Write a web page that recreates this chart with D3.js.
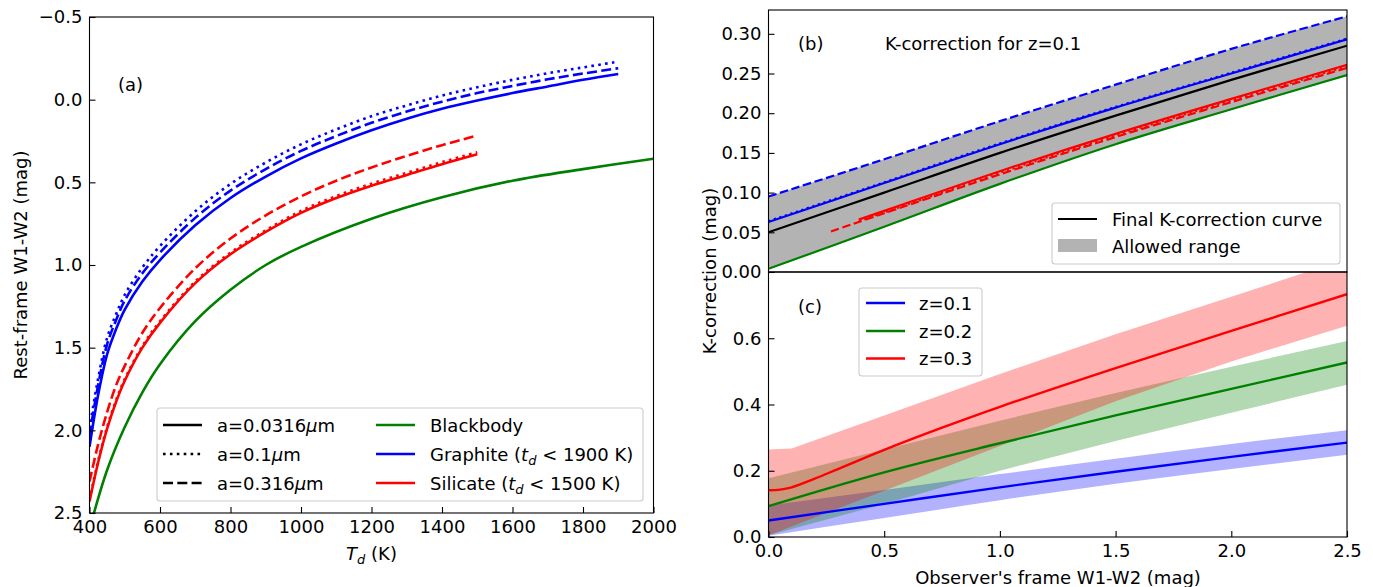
<!DOCTYPE html>
<html><head><meta charset="utf-8">
<script src="https://cdn.jsdelivr.net/npm/d3@7"></script>
<style>
html,body{margin:0;padding:0;background:#fff;}
svg{display:block;font-family:"DejaVu Sans",sans-serif;}
</style></head><body>
<svg id="chart" width="1373" height="587"></svg>
<script>
// ---------------- Panel (a) data ----------------
const tdGraphite = [400,425,450,475,500,550,600,700,800,900,1000,1100,1200,1300,1400,1500,1600,1700,1800,1900];
const graphiteA0316 = [2.10,1.78,1.54,1.39,1.27,1.10,0.97,0.76,0.595,0.465,0.355,0.265,0.185,0.115,0.055,0.005,-0.04,-0.08,-0.12,-0.155];
const graphiteA01   = [1.99,1.68,1.44,1.30,1.18,1.015,0.885,0.675,0.51,0.38,0.27,0.18,0.10,0.035,-0.025,-0.075,-0.12,-0.16,-0.195,-0.23];
const graphiteA316  = [2.03,1.72,1.48,1.335,1.215,1.05,0.925,0.715,0.55,0.42,0.31,0.22,0.14,0.072,0.012,-0.04,-0.083,-0.123,-0.158,-0.19];
const tdSilicate = [400,425,450,475,500,550,600,700,800,900,1000,1100,1200,1300,1400,1500];
const silicateA0316 = [2.43,2.19,1.99,1.83,1.70,1.50,1.35,1.11,0.935,0.80,0.685,0.595,0.52,0.455,0.39,0.33];
const silicateA01   = [2.42,2.18,1.98,1.82,1.69,1.49,1.34,1.10,0.925,0.79,0.673,0.583,0.508,0.443,0.378,0.318];
const silicateA316  = [2.31,2.08,1.89,1.73,1.61,1.41,1.26,1.02,0.84,0.70,0.585,0.49,0.41,0.34,0.275,0.217];
const tdBlackbody = [400,410,450,500,550,600,700,800,900,1000,1200,1400,1600,1800,2000];
const blackbodyA  = [2.60,2.52,2.24,1.98,1.77,1.60,1.34,1.15,1.00,0.89,0.72,0.59,0.49,0.42,0.357];
const ticksTd = [400,600,800,1000,1200,1400,1600,1800,2000];
const ticksColA = [-0.5,0.0,0.5,1.0,1.5,2.0,2.5];

// ---------------- Panel (b) data ----------------
const obsColor = [0,0.5,1.0,1.5,2.0,2.5];
const kBlackbody   = [0.004,0.057,0.111,0.161,0.205,0.248];
const kGraphite316 = [0.095,0.142,0.190,0.236,0.281,0.322];
const kGraphite0316= [0.063,0.112,0.161,0.207,0.250,0.293];
const kGraphite01  = [0.064,0.113,0.162,0.208,0.251,0.294];
const kFinal       = [0.050,0.100,0.150,0.197,0.242,0.285];
const obsSilicateSmall = [0.39,0.5,1.0,1.5,2.0,2.5];
const kSilicate0316 = [0.066,0.077,0.127,0.174,0.218,0.261];
const kSilicate01   = [0.064,0.075,0.125,0.172,0.216,0.259];
const obsSilicateLarge = [0.27,0.5,1.0,1.5,2.0,2.5];
const kSilicate316  = [0.051,0.074,0.123,0.170,0.214,0.257];
const ticksKb = [0.00,0.05,0.10,0.15,0.20,0.25,0.30];

// ---------------- Panel (c) data ----------------
const kZ2 = [0.093,0.195,0.283,0.367,0.447,0.527];
const kZ2low = [0.005,0.10,0.20,0.29,0.375,0.46];
const kZ2high= [0.177,0.264,0.351,0.435,0.514,0.592];
const obsZ3 = [0,0.05,0.1,0.2,0.3,0.5,0.75,1.0,1.5,2.0,2.5];
const kZ3   = [0.141,0.143,0.150,0.176,0.205,0.263,0.330,0.393,0.51,0.622,0.733];
const obsZ3band = [0,0.1,0.5,1.0,1.5,2.0,2.5];
const kZ3low  = [0.005,0.032,0.14,0.275,0.41,0.53,0.638];
const kZ3high = [0.264,0.267,0.367,0.492,0.612,0.725,0.84];
const ticksObs = [0.0,0.5,1.0,1.5,2.0,2.5];
const ticksKc = [0.0,0.2,0.4,0.6];

// ---------------- drawing ----------------
const svg = d3.select("#chart");
const FS = 18;
const BLUE="#0000ff", GREEN="#008000", RED="#ff0000";
const zip = (xs, ys) => xs.map((x,i)=>[x, ys[i]]);
const minus = s => s.replace("-", "\u2212");
const SMOOTH = d3.curveCatmullRom.alpha(0.5);

const xA = d3.scaleLinear().domain([400,2000]).range([89.5,653.5]);
const yA = d3.scaleLinear().domain([-0.5,2.5]).range([17,513]);
const xB = d3.scaleLinear().domain([0,2.5]).range([768.5,1347]);
const yB = d3.scaleLinear().domain([0,0.33]).range([272,10]);
const yC = d3.scaleLinear().domain([0,0.8]).range([537,272]);

const defs = svg.append("defs");
function clip(id, x0, y0, x1, y1){
  defs.append("clipPath").attr("id", id).append("rect")
    .attr("x", x0).attr("y", y0).attr("width", x1-x0).attr("height", y1-y0);
}
clip("cA", 89.5, 17, 653.5, 513);
clip("cB", 768.5, 10, 1347, 272);
clip("cC", 768.5, 272, 1347, 537);

function drawLine(g, x, y, pts, color, width, dash, curve){
  g.append("path").datum(pts)
    .attr("d", d3.line().x(d=>x(d[0])).y(d=>y(d[1])).curve(curve || SMOOTH))
    .attr("fill","none").attr("stroke",color).attr("stroke-width",width)
    .attr("stroke-dasharray", dash || null);
}
function drawBand(g, x, y, xs, lo, hi, color, opacity, curve){
  const pts = xs.map((v,i)=>({x:v, lo:lo[i], hi:hi[i]}));
  g.append("path").datum(pts)
    .attr("d", d3.area().x(d=>x(d.x)).y0(d=>y(d.lo)).y1(d=>y(d.hi)).curve(curve || d3.curveMonotoneX))
    .attr("fill", color).attr("fill-opacity", opacity).attr("stroke","none");
}

// ---- Panel (a) ----
const gA = svg.append("g").attr("clip-path","url(#cA)");
const LWA = 2.6, DASHA = "10,4.3", DOTA = "2.6,4.3";
drawLine(gA, xA, yA, zip(tdBlackbody, blackbodyA), GREEN, LWA);
drawLine(gA, xA, yA, zip(tdGraphite, graphiteA0316), BLUE, LWA);
drawLine(gA, xA, yA, zip(tdGraphite, graphiteA01), BLUE, LWA, DOTA);
drawLine(gA, xA, yA, zip(tdGraphite, graphiteA316), BLUE, LWA, DASHA);
drawLine(gA, xA, yA, zip(tdSilicate, silicateA0316), RED, LWA);
drawLine(gA, xA, yA, zip(tdSilicate, silicateA01), RED, LWA, DOTA);
drawLine(gA, xA, yA, zip(tdSilicate, silicateA316), RED, LWA, DASHA);

// ---- Panel (b) ----
const gB = svg.append("g").attr("clip-path","url(#cB)");
const LWB = 2.2, DASHB = "8.5,3.6", DOTB = "2.2,3.6";
drawBand(gB, xB, yB, obsColor, kBlackbody, kGraphite316, "#b3b3b3", 1);
drawLine(gB, xB, yB, zip(obsColor, kBlackbody), GREEN, LWB);
drawLine(gB, xB, yB, zip(obsColor, kGraphite0316), BLUE, LWB);
drawLine(gB, xB, yB, zip(obsColor, kGraphite01), BLUE, LWB, DOTB);
drawLine(gB, xB, yB, zip(obsColor, kGraphite316), BLUE, LWB, DASHB);
drawLine(gB, xB, yB, zip(obsSilicateSmall, kSilicate0316), RED, LWB);
drawLine(gB, xB, yB, zip(obsSilicateSmall, kSilicate01), RED, LWB, DOTB);
drawLine(gB, xB, yB, zip(obsSilicateLarge, kSilicate316), RED, LWB, DASHB);
drawLine(gB, xB, yB, zip(obsColor, kFinal), "#000", LWB);

// ---- Panel (c) ----
const gC = svg.append("g").attr("clip-path","url(#cC)");
drawBand(gC, xB, yC, obsColor, kBlackbody, kGraphite316, BLUE, 0.3);
drawBand(gC, xB, yC, obsColor, kZ2low, kZ2high, GREEN, 0.3, d3.curveLinear);
drawBand(gC, xB, yC, obsZ3band, kZ3low, kZ3high, RED, 0.3, d3.curveLinear);
drawLine(gC, xB, yC, zip(obsColor, kFinal), BLUE, 2.4);
drawLine(gC, xB, yC, zip(obsColor, kZ2), GREEN, 2.4);
drawLine(gC, xB, yC, zip(obsZ3, kZ3), RED, 2.4);

// ---- Axes ----
function styleAxis(g){
  g.select(".domain").remove();
  g.selectAll("line").attr("stroke","#000").attr("stroke-width",1.1);
  g.selectAll("text").attr("font-size",FS).attr("font-family","DejaVu Sans").attr("fill","#000");
}
svg.append("g").attr("transform","translate(89.5,0)")
  .call(d3.axisLeft(yA).tickValues(ticksColA).tickSize(-6).tickPadding(7).tickFormat(d=>minus(d3.format(".1f")(d))))
  .call(styleAxis);
svg.append("g").attr("transform","translate(0,513)")
  .call(d3.axisBottom(xA).tickValues(ticksTd).tickSize(-6).tickPadding(7).tickFormat(d3.format("d")))
  .call(styleAxis);
svg.append("g").attr("transform","translate(768.5,0)")
  .call(d3.axisLeft(yB).tickValues(ticksKb).tickSize(-6).tickPadding(7).tickFormat(d3.format(".2f")))
  .call(styleAxis);
svg.append("g").attr("transform","translate(768.5,0)")
  .call(d3.axisLeft(yC).tickValues(ticksKc).tickSize(-6).tickPadding(7).tickFormat(d3.format(".1f")))
  .call(styleAxis);
svg.append("g").attr("transform","translate(0,537)")
  .call(d3.axisBottom(xB).tickValues(ticksObs).tickSize(-6).tickPadding(7).tickFormat(d3.format(".1f")))
  .call(styleAxis);

// frames
function frame(x0,y0,x1,y1){
  svg.append("rect").attr("x",x0).attr("y",y0).attr("width",x1-x0).attr("height",y1-y0)
    .attr("fill","none").attr("stroke","#000").attr("stroke-width",1.1);
}
frame(89.5,17,653.5,513);
frame(768.5,10,1347,272);
frame(768.5,272,1347,537);

// ---- axis labels ----
function txt(x,y,s,opt){
  const t = svg.append("text").attr("x",x).attr("y",y).attr("font-size",FS).attr("fill","#000");
  if (opt && opt.anchor) t.attr("text-anchor",opt.anchor);
  if (s !== null) t.text(s);
  return t;
}
svg.append("text").attr("transform","translate(27,265) rotate(-90)").attr("text-anchor","middle")
  .attr("font-size",FS).text("Rest-frame W1-W2 (mag)");
svg.append("text").attr("transform","translate(716,271) rotate(-90)").attr("text-anchor","middle")
  .attr("font-size",FS).text("K-correction (mag)");
const tl = txt(371.5,560,null,{anchor:"middle"});
tl.append("tspan").attr("font-style","italic").text("T");
tl.append("tspan").attr("font-style","italic").attr("font-size",13).attr("dy",4).text("d");
tl.append("tspan").attr("dy",-4).text(" (K)");
txt(1058,584,"Observer's frame W1-W2 (mag)",{anchor:"middle"});

txt(118,91,"(a)");
txt(798,50,"(b)");
txt(885,50,"K-correction for z=0.1");
txt(798,313,"(c)");

// ---- legends ----
function legendBox(x0,y0,x1,y1){
  svg.append("rect").attr("x",x0).attr("y",y0).attr("width",x1-x0).attr("height",y1-y0)
    .attr("rx",3).attr("fill","#fff").attr("fill-opacity",0.8)
    .attr("stroke","#cccccc").attr("stroke-width",1.1);
}
function legLine(x, y, color, width, dash){
  svg.append("line").attr("x1",x).attr("x2",x+39).attr("y1",y).attr("y2",y)
    .attr("stroke",color).attr("stroke-width",width).attr("stroke-dasharray",dash||null);
}
function muLabel(x,y,pre){
  const t = txt(x,y,null);
  t.append("tspan").text(pre);
  t.append("tspan").attr("font-style","italic").text("\u03bc");
  t.append("tspan").text("m");
}
function tdLabel(x,y,pre,post){
  const t = txt(x,y,null);
  t.append("tspan").text(pre);
  t.append("tspan").attr("font-style","italic").text("t");
  t.append("tspan").attr("font-style","italic").attr("font-size",13).attr("dy",4).text("d");
  t.append("tspan").attr("dy",-4).text(post);
}
// (a)
legendBox(157,408,643,501);
const rA = [425,454,483];
legLine(163, rA[0], "#000", LWA);
legLine(163, rA[1], "#000", LWA, DOTA);
legLine(163, rA[2], "#000", LWA, DASHA);
muLabel(217, rA[0]+6.5, "a=0.0316");
muLabel(217, rA[1]+6.5, "a=0.1");
muLabel(217, rA[2]+6.5, "a=0.316");
legLine(376, rA[0], GREEN, LWA);
legLine(376, rA[1], BLUE, LWA);
legLine(376, rA[2], RED, LWA);
txt(430, rA[0]+6.5, "Blackbody");
tdLabel(430, rA[1]+6.5, "Graphite (", " < 1900 K)");
tdLabel(430, rA[2]+6.5, "Silicate (", " < 1500 K)");
// (b)
legendBox(1052,203,1340,264);
legLine(1058, 219, "#000", LWB);
svg.append("rect").attr("x",1058).attr("y",239).attr("width",39).attr("height",13).attr("fill","#b3b3b3");
txt(1112, 225.5, "Final K-correction curve");
txt(1112, 252.5, "Allowed range");
// (c)
legendBox(859,288,982,376);
const rC = [303,331,358.5];
legLine(866, rC[0], BLUE, 2.4);
legLine(866, rC[1], GREEN, 2.4);
legLine(866, rC[2], RED, 2.4);
txt(919, rC[0]+6.5, "z=0.1");
txt(919, rC[1]+6.5, "z=0.2");
txt(919, rC[2]+6.5, "z=0.3");
</script></body></html>
